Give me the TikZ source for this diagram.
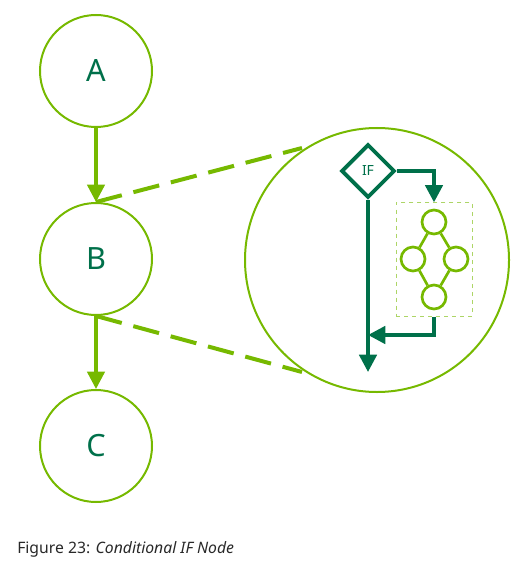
\documentclass[tikz,border=0pt]{standalone}
\usepackage{fontspec}
\setmainfont{Noto Sans}
\usetikzlibrary{arrows.meta,shapes.geometric}
\definecolor{lgreen}{RGB}{118,185,0}
\definecolor{dgreen}{RGB}{0,112,74}
\definecolor{capgray}{RGB}{40,40,40}
\begin{document}
\begin{tikzpicture}[x=0.75pt,y=-0.75pt,
  bignode/.style={circle,draw=lgreen,line width=1.5pt,minimum size=84pt,inner sep=0pt,text=dgreen,font=\fontsize{23}{25}\selectfont},
  smallnode/.style={circle,draw=lgreen,line width=2pt,minimum size=18pt,inner sep=0pt},
  lgarrow/.style={draw=lgreen,line width=2.5pt,-{Triangle[length=13pt,width=13pt]}},
  dgarrow/.style={draw=dgreen,line width=2.8pt,-{Triangle[length=13pt,width=13pt]}},
  zoomline/.style={draw=lgreen,line width=3pt,dash pattern=on 20pt off 9pt},
  thinlink/.style={draw=lgreen,line width=2pt}]
\useasboundingbox (0,0) rectangle (522,570);
\node[bignode] (A) at (96,71) {A};
\node[bignode] (B) at (96,259) {B};
\node[bignode] (C) at (96,446) {C};
\draw[lgarrow] (A.south) -- (B.north);
\draw[lgarrow] (B.south) -- (C.north);
\node[circle,draw=lgreen,line width=1.5pt,minimum size=198pt,inner sep=0pt] (Z) at (377,260) {};
\coordinate (zt) at (302,148);
\coordinate (zb) at (302,372);
\draw[zoomline] (B.north) -- (zt);
\draw[zoomline] (B.south) -- (zb);
\node[diamond,draw=dgreen,line width=2.8pt,minimum size=40pt,inner sep=0pt,text=dgreen,font=\sffamily\fontsize{10.5}{12}\selectfont] (IF) at (368,171) {\fontspec{Noto Sans}IF};
\node[draw=lgreen!60,line width=0.7pt,dashed,minimum width=57pt,minimum height=85pt,inner sep=0pt] (box) at (434,259.5) {};
\node[smallnode] (s1) at (434,222) {};
\node[smallnode] (s2) at (413,259) {};
\node[smallnode] (s3) at (456,259) {};
\node[smallnode] (s4) at (434,297) {};
\draw[thinlink] (s1) -- (s2) (s1) -- (s3) (s2) -- (s4) (s3) -- (s4);
\coordinate (mainend) at (368,372);
\coordinate (join) at (368,335);
\draw[dgarrow] (IF.south) -- (mainend);
\draw[dgarrow] (IF.east) -| (box.north);
\draw[dgarrow] (box.south) |- (join);
\node[anchor=base west,inner sep=0pt,text=capgray,font=\fontsize{11.8}{13}\selectfont] (cap) at (17,553) {Figure 23: \textit{Conditional IF Node}};
\end{tikzpicture}
\end{document}
